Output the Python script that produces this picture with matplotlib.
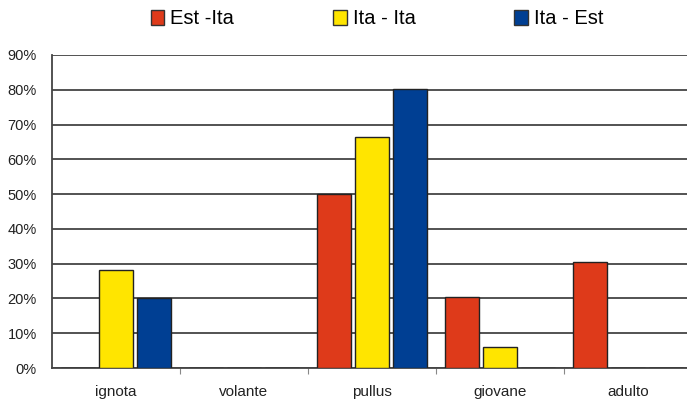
import matplotlib
matplotlib.use("Agg")
import matplotlib.pyplot as plt
import numpy as np
from matplotlib.patches import Patch

categories = ["ignota", "volante", "pullus", "giovane", "adulto"]
series_names = ["Est -Ita", "Ita - Ita", "Ita - Est"]
est_ita = [0.0, 0.0, 50.0, 20.3, 30.4]
ita_ita = [28.2, 0.0, 66.5, 5.9, 0.0]
ita_est = [20.0, 0.0, 80.2, 0.0, 0.0]
yticks = [0, 10, 20, 30, 40, 50, 60, 70, 80, 90]

colors = ["#DE3A1A", "#FFE500", "#003F93"]
series = [est_ita, ita_ita, ita_est]

plt.rcParams['font.family'] = ['Liberation Sans', 'DejaVu Sans']

fig = plt.figure(figsize=(6.87, 4.0), dpi=100)
ax = fig.add_axes([52/687, 32/400, 640/687, 313/400])

x = np.arange(len(categories))
w = 0.265
step = 0.298
for i, (vals, c, name) in enumerate(zip(series, colors, series_names)):
    ax.bar(x + (i - 1) * step, vals, width=w, color=c, edgecolor="#222222",
           linewidth=1.0, zorder=3, label=name)

ax.set_xlim(-0.5, 4.5)
ax.set_ylim(0, 90)
ax.set_yticks(yticks)
ax.set_yticklabels([f"{t}%" for t in yticks], fontsize=10.5, color="#222222")
ax.tick_params(axis='y', length=0, pad=11)
ax.set_xticks(x)
ax.set_xticklabels(categories, fontsize=11, color="#222222")
ax.tick_params(axis='x', which='major', length=0, pad=12)
ax.set_xticks(np.arange(-0.5, 4.6, 1.0)[1:-1], minor=True)
ax.tick_params(axis='x', which='minor', length=4, width=0.8, color="#888888")

ax.yaxis.grid(True, color="#444444", linewidth=1.3, zorder=0)
ax.set_axisbelow(True)
for s in ["top", "right"]:
    ax.spines[s].set_visible(False)
ax.spines["left"].set_color("#444444")
ax.spines["left"].set_linewidth(1.3)
ax.spines["bottom"].set_color("#444444")
ax.spines["bottom"].set_linewidth(1.3)

handles = [Patch(facecolor=c, edgecolor="#333333", linewidth=1.0) for c in colors]
fig.legend(handles, series_names, loc="center", bbox_to_anchor=(377/687, 1 - 19/400),
           ncol=3, frameon=False, fontsize=14.5, handlelength=0.68, handleheight=0.75,
           handletextpad=0.3, columnspacing=4.9, borderpad=0, borderaxespad=0)

fig.savefig("out.png", dpi=100)
